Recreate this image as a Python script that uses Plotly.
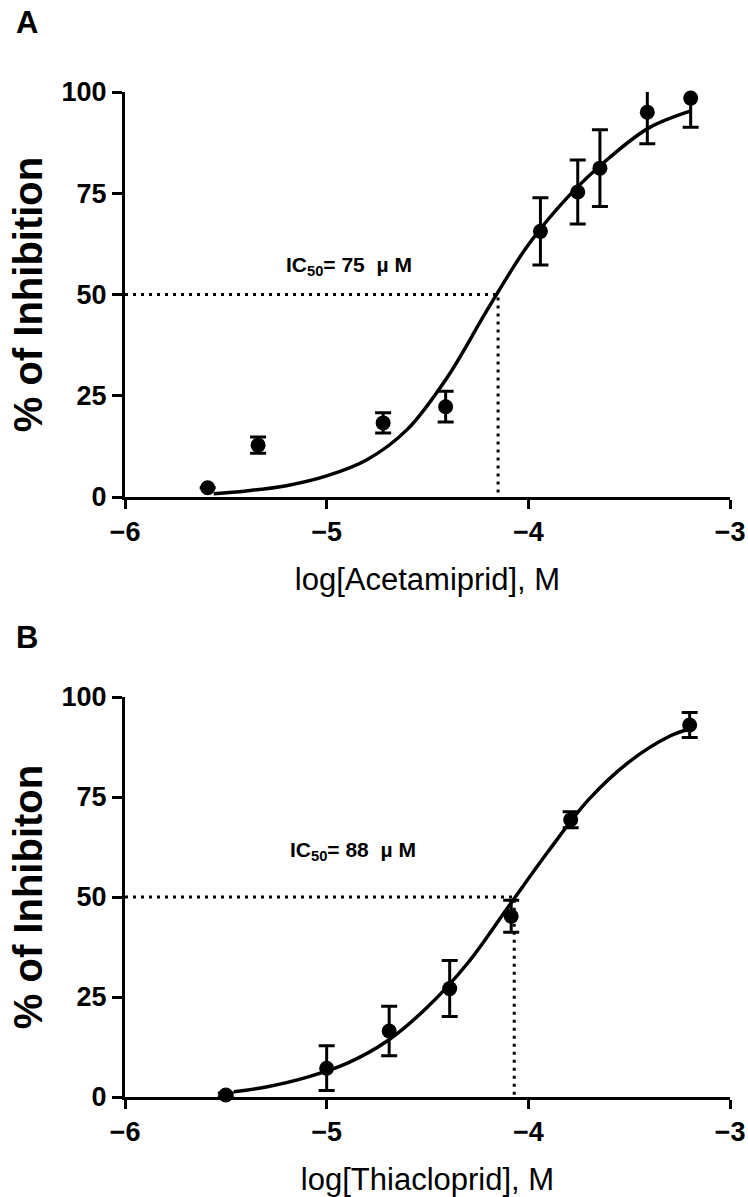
import plotly.graph_objects as go

# ---------------- data ----------------
# Panel A: Acetamiprid
a_logconc = [-5.59, -5.34, -4.72, -4.41, -3.94, -3.755, -3.645, -3.41, -3.195]
a_inhib = [2.3, 12.8, 18.3, 22.3, 65.6, 75.3, 81.2, 95.0, 98.5]
a_sem = [0.0, 2.0, 2.5, 3.8, 8.3, 7.9, 9.5, 7.8, 7.2]
a_fit_x = [-5.56, -5.4, -5.2, -5.0, -4.8, -4.6, -4.4, -4.2, -4.0, -3.8, -3.6, -3.4, -3.19]
a_fit_y = [0.8, 1.5, 2.8, 5.2, 9.2, 16.7, 29.7, 46.5, 62.3, 74.3, 83.7, 91.2, 95.4]
a_ic50_log = -4.15
a_label = "IC<sub>50</sub>=\u00a075\u00a0\u00a0µ\u00a0M"

# Panel B: Thiacloprid
b_logconc = [-5.50, -5.00, -4.69, -4.39, -4.085, -3.79, -3.20]
b_inhib = [0.5, 7.2, 16.5, 27.1, 45.2, 69.3, 93.0]
b_sem = [0.5, 5.6, 6.2, 7.0, 4.0, 2.0, 3.1]
b_fit_x = [-5.46, -5.3, -5.1, -4.9, -4.7, -4.5, -4.3, -4.1, -3.9, -3.7, -3.5, -3.3, -3.20]
b_fit_y = [1.3, 2.5, 4.9, 8.4, 14.0, 22.5, 33.5, 47.5, 61.5, 74.4, 83.8, 90.2, 92.0]
b_ic50_log = -4.07
b_label = "IC<sub>50</sub>=\u00a088\u00a0\u00a0µ\u00a0M"

x_ticks = [-6, -5, -4, -3]
y_ticks = [0, 25, 50, 75, 100]
half_level = 50
x_min, x_max = -6, -3
y_min, y_max = 0, 100

FONT = "Liberation Sans, Arial, sans-serif"
BLACK = "black"

W, H = 748, 1197
ML, MR, MT, MB = 125, 18, 92, 100
PW, PH = W - ML - MR, H - MT - MB

fig = go.Figure()

def add_panel(xs, ys, errs, fx, fy, ic50, xa, ya):
    # error bars (clipped at the plot area)
    fig.add_trace(go.Scatter(
        x=xs, y=ys, mode="markers", xaxis=xa, yaxis=ya,
        marker=dict(size=1, color="rgba(0,0,0,0)"),
        error_y=dict(type="data", array=errs, visible=True, color=BLACK,
                     thickness=3, width=8),
        cliponaxis=True, showlegend=False, hoverinfo="skip"))
    # dotted guide lines at IC50
    fig.add_trace(go.Scatter(
        x=[x_min, ic50, ic50], y=[half_level, half_level, y_min],
        mode="lines", xaxis=xa, yaxis=ya,
        line=dict(color=BLACK, width=3, dash="3px,5px"),
        showlegend=False, hoverinfo="skip"))
    # fitted curve
    fig.add_trace(go.Scatter(
        x=fx, y=fy, mode="lines", xaxis=xa, yaxis=ya,
        line=dict(color=BLACK, width=3.5, shape="spline", smoothing=1.0),
        showlegend=False, hoverinfo="skip"))
    # points
    fig.add_trace(go.Scatter(
        x=xs, y=ys, mode="markers", xaxis=xa, yaxis=ya,
        marker=dict(size=15, color=BLACK, symbol="circle"),
        cliponaxis=False, showlegend=False))

add_panel(a_logconc, a_inhib, a_sem, a_fit_x, a_fit_y, a_ic50_log, "x", "y")
add_panel(b_logconc, b_inhib, b_sem, b_fit_x, b_fit_y, b_ic50_log, "x2", "y2")

tickfont = dict(family=FONT, size=27, color=BLACK, weight="bold")
common_x = dict(range=[x_min, x_max], tickvals=x_ticks, showline=True, linecolor=BLACK,
                linewidth=3, ticks="outside", ticklen=9, tickwidth=3, tickcolor=BLACK,
                showgrid=False, zeroline=False, tickfont=tickfont, fixedrange=True,
                automargin=False, ticklabeloverflow="allow")
common_y = dict(range=[y_min, y_max], tickvals=y_ticks, showline=True, linecolor=BLACK,
                linewidth=3, ticks="outside", ticklen=10, tickwidth=3, tickcolor=BLACK,
                showgrid=False, zeroline=False, tickfont=tickfont, fixedrange=True,
                automargin=False, ticklabeloverflow="allow")

xt_font = dict(family=FONT, size=31, color=BLACK)
yt_font = dict(family=FONT, size=40, color=BLACK, weight="bold")

def px_to_paper(px, py):
    return (px - ML) / PW, (H - MB - py) / PH

ax, ay = px_to_paper(27, 22)
bx, by = px_to_paper(27, 637)

letter_font = dict(family=FONT, size=31, color=BLACK)
label_font = dict(family=FONT, size=21, color=BLACK)

fig.update_layout(
    template="none",
    width=W, height=H,
    margin=dict(l=ML, r=MR, t=MT, b=MB, autoexpand=False),
    paper_bgcolor="white", plot_bgcolor="white",
    showlegend=False,
    xaxis=dict(domain=[0, 1], anchor="y",
               title=dict(text="log[Acetamiprid], M", font=xt_font, standoff=22), **common_x),
    yaxis=dict(domain=[0.597, 1], anchor="x",
               title=dict(text="% of Inhibition", font=yt_font, standoff=7), **common_y),
    xaxis2=dict(domain=[0, 1], anchor="y2",
                title=dict(text="log[Thiacloprid], M", font=xt_font, standoff=22), **common_x),
    yaxis2=dict(domain=[0, 0.398], anchor="x2",
                title=dict(text="% of Inhibiton", font=yt_font, standoff=7), **common_y),
    annotations=[
        dict(text="<b>A</b>", x=ax, y=ay, xref="paper", yref="paper", showarrow=False,
             xanchor="center", yanchor="middle", font=letter_font),
        dict(text="<b>B</b>", x=bx, y=by, xref="paper", yref="paper", showarrow=False,
             xanchor="center", yanchor="middle", font=letter_font),
        dict(text="<b>" + a_label + "</b>", x=-4.89, y=57, xref="x", yref="y", showarrow=False,
             font=label_font, xanchor="center", yanchor="middle"),
        dict(text="<b>" + b_label + "</b>", x=-4.87, y=61.5, xref="x2", yref="y2", showarrow=False,
             font=label_font, xanchor="center", yanchor="middle"),
    ],
)

# the page's default body margin would shift the figure by 8px; remove it
fig.write_html("out.html", config={"displayModeBar": False},
               post_script="document.body.style.margin='0';")
